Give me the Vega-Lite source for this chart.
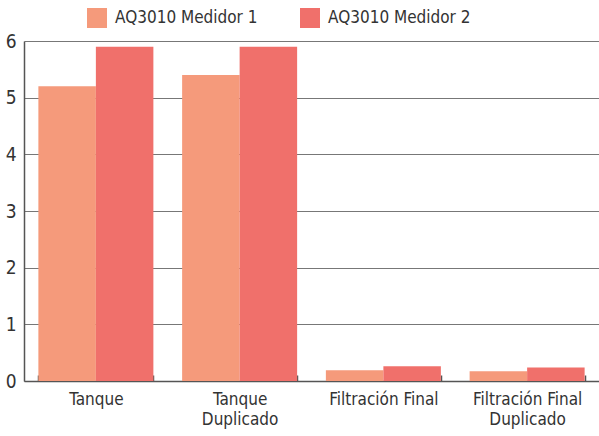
{
  "$schema": "https://vega.github.io/schema/vega-lite/v6.json",
  "width": 575,
  "height": 340,
  "autosize": {"type": "none"},
  "padding": {"left": 24, "top": 41, "right": 0, "bottom": 55},
  "background": "white",
  "config": {
    "font": "DejaVu Sans Condensed, Roboto, sans-serif",
    "view": {"stroke": null}
  },
  "data": {
    "values": [
      {"ubicacion": "Tanque", "medidor": "AQ3010 Medidor 1", "valor": 5.2},
      {"ubicacion": "Tanque", "medidor": "AQ3010 Medidor 2", "valor": 5.9},
      {"ubicacion": "Tanque Duplicado", "medidor": "AQ3010 Medidor 1", "valor": 5.4},
      {"ubicacion": "Tanque Duplicado", "medidor": "AQ3010 Medidor 2", "valor": 5.9},
      {"ubicacion": "Filtración Final", "medidor": "AQ3010 Medidor 1", "valor": 0.19},
      {"ubicacion": "Filtración Final", "medidor": "AQ3010 Medidor 2", "valor": 0.26},
      {"ubicacion": "Filtración Final Duplicado", "medidor": "AQ3010 Medidor 1", "valor": 0.17},
      {"ubicacion": "Filtración Final Duplicado", "medidor": "AQ3010 Medidor 2", "valor": 0.24}
    ]
  },
  "mark": {"type": "bar"},
  "encoding": {
    "x": {
      "field": "ubicacion",
      "type": "nominal",
      "sort": null,
      "scale": {"paddingInner": 0.2, "paddingOuter": 0.1},
      "axis": {
        "title": null,
        "labelAngle": 0,
        "labelFontSize": 17,
        "labelColor": "#333333",
        "labelPadding": 16,
        "labelLineHeight": 20,
        "labelExpr": "datum.label == 'Tanque Duplicado' ? ['Tanque','Duplicado'] : datum.label == 'Filtración Final Duplicado' ? ['Filtración Final','Duplicado'] : datum.label",
        "domainColor": "#555555",
        "domainWidth": 1.5,
        "tickBand": "extent",
        "tickSize": -6,
        "tickColor": "#555555",
        "tickWidth": 1.5,
        "grid": false
      }
    },
    "xOffset": {"field": "medidor", "type": "nominal"},
    "y": {
      "field": "valor",
      "type": "quantitative",
      "scale": {"domain": [0, 6], "nice": false},
      "axis": {
        "title": null,
        "values": [0, 1, 2, 3, 4, 5, 6],
        "labelFontSize": 19,
        "labelColor": "#333333",
        "labelPadding": 8,
        "ticks": false,
        "domainColor": "#555555",
        "domainWidth": 1.5,
        "gridColor": "#777777",
        "gridWidth": 1.2
      }
    },
    "color": {
      "field": "medidor",
      "type": "nominal",
      "scale": {"range": ["#F59A7B", "#F0706B"]},
      "legend": {
        "title": null,
        "orient": "none",
        "direction": "horizontal",
        "legendX": 63,
        "legendY": -33,
        "symbolType": "square",
        "symbolSize": 400,
        "symbolStrokeWidth": 0,
        "symbolOpacity": 1,
        "labelFontSize": 17,
        "labelColor": "#333333",
        "labelOffset": 8,
        "columnPadding": 42,
        "labelLimit": 300
      }
    }
  }
}
